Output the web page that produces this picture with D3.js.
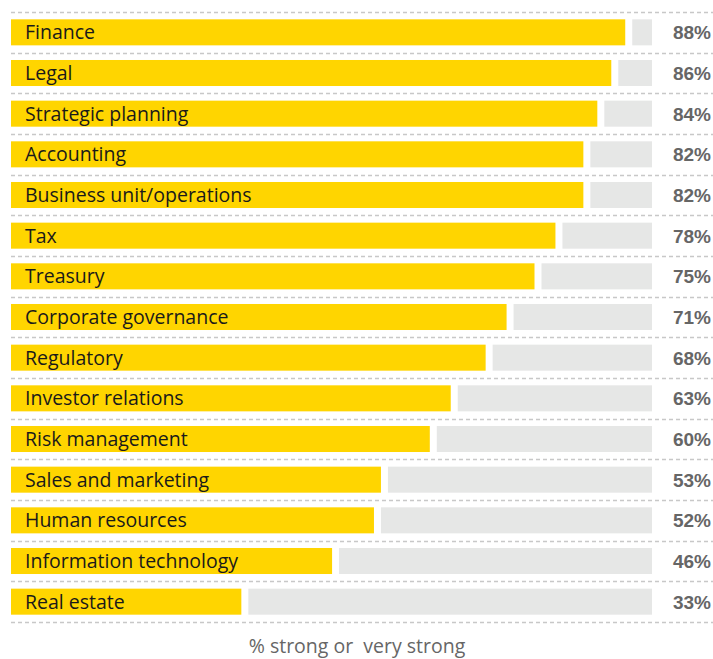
<!DOCTYPE html>
<html>
<head>
<meta charset="utf-8">
<script src="https://d3js.org/d3.v7.min.js"></script>
<style>
  body { margin: 0; background: #fff; }
  svg { display: block; }
</style>
</head>
<body>
<svg id="chart" width="713" height="659"></svg>
<script>
// Functions rated strong or very strong, in the order shown.
var categories = [
  'Finance', 'Legal', 'Strategic planning', 'Accounting',
  'Business unit/operations', 'Tax', 'Treasury', 'Corporate governance',
  'Regulatory', 'Investor relations', 'Risk management',
  'Sales and marketing', 'Human resources', 'Information technology',
  'Real estate'
];
var values = [88, 86, 84, 82, 82, 78, 75, 71, 68, 63, 60, 53, 52, 46, 33];
var axisTitle = '% strong or  very strong';

var svg = d3.select('#chart');
var width = +svg.attr('width');
var font = 'Open Sans, Liberation Sans, Arial, sans-serif';

var rows = categories.map(function(c, i) { return { name: c, value: values[i] }; });

// Percent scale; the grey track always stops at the same right edge.
var x = d3.scaleLinear().domain([0, 100]).range([11, 709]);
var trackEnd = 652;
var gap = 7;

var y = d3.scaleBand()
  .domain(categories)
  .range([12, 622])
  .paddingInner(0.36)
  .paddingOuter(0.18);

var step = y.step();
var lineY = categories.map(function(c) { return y(c) - step * 0.18; });
lineY.push(y.range()[1]);

// Dashed separators between rows.
svg.append('g')
  .selectAll('line')
  .data(lineY)
  .enter().append('line')
    .attr('x1', 11)
    .attr('x2', width)
    .attr('y1', function(d) { return Math.round(d) + 0.5; })
    .attr('y2', function(d) { return Math.round(d) + 0.5; })
    .attr('stroke', '#c8c8c8')
    .attr('stroke-width', 1.5)
    .attr('stroke-dasharray', '4,3');

var g = svg.append('g')
  .selectAll('g')
  .data(rows)
  .enter().append('g');

// Grey remainder track.
g.append('rect')
  .attr('x', function(d) { return x(d.value) + gap; })
  .attr('y', function(d) { return y(d.name); })
  .attr('width', function(d) { return trackEnd - x(d.value) - gap; })
  .attr('height', y.bandwidth())
  .attr('fill', '#e6e7e6');

// Yellow value bar.
g.append('rect')
  .attr('x', x(0))
  .attr('y', function(d) { return y(d.name); })
  .attr('width', function(d) { return x(d.value) - x(0); })
  .attr('height', y.bandwidth())
  .attr('fill', '#ffd500');

g.append('text')
  .attr('x', 25)
  .attr('y', function(d) { return y(d.name) + y.bandwidth() / 2; })
  .attr('dy', '0.36em')
  .attr('font-family', font)
  .attr('font-size', 19.5)
  .attr('fill', '#1a1a1a')
  .text(function(d) { return d.name; });

g.append('text')
  .attr('x', 711)
  .attr('y', function(d) { return y(d.name) + y.bandwidth() / 2; })
  .attr('dy', '0.36em')
  .attr('text-anchor', 'end')
  .attr('font-family', 'Liberation Sans, Arial, sans-serif')
  .attr('font-size', 19)
  .attr('font-weight', 'bold')
  .attr('fill', '#666666')
  .text(function(d) { return d.value + '%'; });

svg.append('text')
  .attr('x', 357)
  .attr('y', 653)
  .attr('text-anchor', 'middle')
  .attr('font-family', font)
  .attr('font-size', 19.5)
  .attr('fill', '#666666')
  .style('white-space', 'pre')
  .text(axisTitle);
</script>
</body>
</html>
